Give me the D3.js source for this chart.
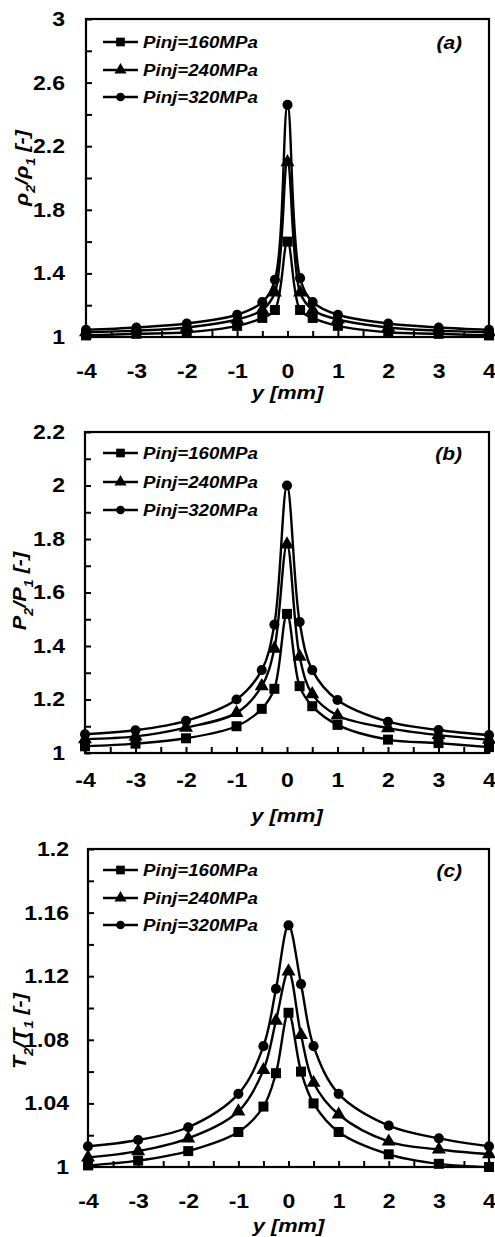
<!DOCTYPE html>
<html>
<head>
<meta charset="utf-8">
<script src="https://cdn.jsdelivr.net/npm/d3@7"></script>
<style>
  body { margin: 0; background: #fff; }
  text { font-family: "Liberation Sans", Arial, sans-serif; font-weight: bold; fill: #000; }
</style>
</head>
<body>
<div id="chart"></div>
<script>
// positions along the jet (mm)
const yPos = [-4, -3, -2, -1, -0.5, -0.25, 0, 0.25, 0.5, 1, 2, 3, 4];
const seriesNames = ["Pinj=160MPa", "Pinj=240MPa", "Pinj=320MPa"];
const xTicks = [-4, -3, -2, -1, 0, 1, 2, 3, 4];

// (a) density ratio
const rho160 = [1.01, 1.02, 1.03, 1.07, 1.12, 1.17, 1.60, 1.17, 1.12, 1.07, 1.03, 1.02, 1.01];
const rho240 = [1.03, 1.04, 1.06, 1.11, 1.17, 1.28, 2.10, 1.28, 1.17, 1.11, 1.06, 1.04, 1.03];
const rho320 = [1.045, 1.06, 1.085, 1.14, 1.22, 1.36, 2.46, 1.37, 1.22, 1.14, 1.085, 1.06, 1.045];
const rhoTicks = [1, 1.4, 1.8, 2.2, 2.6, 3];

// (b) pressure ratio
const p160 = [1.025, 1.035, 1.055, 1.10, 1.165, 1.24, 1.52, 1.25, 1.175, 1.105, 1.05, 1.037, 1.022];
const p240 = [1.052, 1.062, 1.095, 1.15, 1.25, 1.39, 1.78, 1.36, 1.22, 1.14, 1.093, 1.067, 1.05];
const p320 = [1.07, 1.085, 1.12, 1.20, 1.31, 1.48, 2.00, 1.49, 1.31, 1.198, 1.117, 1.086, 1.067];
const pTicks = [1, 1.2, 1.4, 1.6, 1.8, 2, 2.2];

// (c) temperature ratio
const t160 = [1.001, 1.004, 1.010, 1.022, 1.038, 1.059, 1.097, 1.060, 1.040, 1.022, 1.008, 1.002, 1.000];
const t240 = [1.006, 1.010, 1.018, 1.035, 1.061, 1.092, 1.123, 1.083, 1.053, 1.033, 1.016, 1.011, 1.008];
const t320 = [1.013, 1.017, 1.025, 1.046, 1.076, 1.112, 1.152, 1.115, 1.076, 1.046, 1.026, 1.018, 1.013];
const tTicks = [1, 1.04, 1.08, 1.12, 1.16, 1.2];

const svg = d3.select("#chart").append("svg")
  .attr("width", 495).attr("height", 1237);

const symbols = [d3.symbolSquare, d3.symbolTriangle, d3.symbolCircle];
const symSizes = [100, 85, 80];

function stretch(sel, sx) {
  sel.each(function() {
    const t = d3.select(this);
    const x = +t.attr("x") || 0;
    t.attr("transform", `translate(${x * (1 - sx)},0) scale(${sx},1)`);
  });
}

function drawPanel(cfg) {
  const g = svg.append("g");
  const x = d3.scaleLinear().domain([-4, 4]).range([cfg.left, 489]);
  const y = d3.scaleLinear().domain([cfg.ticks[0], cfg.ticks[cfg.ticks.length - 1]]).range([cfg.bottom, cfg.top]);

  // minor ticks halfway between labelled ones
  const step = cfg.ticks[1] - cfg.ticks[0];
  const yAll = [];
  cfg.ticks.forEach((t, i) => { yAll.push(t); if (i < cfg.ticks.length - 1) yAll.push(t + step / 2); });
  const labelled = v => cfg.ticks.some(t => Math.abs(t - v) < 1e-9);

  const yAxis = g.append("g")
    .attr("transform", `translate(${cfg.left},0)`)
    .call(d3.axisLeft(y).tickValues(yAll).tickSize(-6).tickSizeOuter(0).tickPadding(cfg.yPad)
      .tickFormat(d => labelled(d) ? d3.format("")(+d.toFixed(2)) : ""));
  yAxis.selectAll("text").style("font-size", "20px");
  stretch(yAxis.selectAll("text"), 1.15);

  const xMinor = d3.range(-4, 4.01, 0.5);
  const xAxis = g.append("g")
    .attr("transform", `translate(0,${cfg.bottom})`)
    .call(d3.axisBottom(x).tickValues(xMinor).tickSize(-6).tickSizeOuter(0).tickPadding(cfg.xPad)
      .tickFormat(d => xTicks.includes(d) ? d : ""));
  xAxis.selectAll("text").style("font-size", "20px");
  stretch(xAxis.selectAll("text"), 1.15);

  g.selectAll(".domain").remove();
  g.selectAll(".tick line").attr("stroke", "#000").attr("stroke-width", 2);

  g.append("rect")
    .attr("x", cfg.left).attr("y", cfg.top)
    .attr("width", 489 - cfg.left).attr("height", cfg.bottom - cfg.top)
    .attr("fill", "none").attr("stroke", "#000").attr("stroke-width", 2.2);

  const line = d3.line()
    .x((d, i) => x(yPos[i]))
    .y(d => y(d))
    .curve(d3.curveCatmullRom.alpha(0.5));

  cfg.series.forEach((vals, s) => {
    g.append("path")
      .datum(vals)
      .attr("fill", "none")
      .attr("stroke", "#000")
      .attr("stroke-width", 2.4)
      .attr("d", line);
    g.selectAll(null)
      .data(vals)
      .enter().append("path")
      .attr("transform", (d, i) => `translate(${x(yPos[i])},${y(d)})`)
      .attr("d", d3.symbol().type(symbols[s]).size(symSizes[s]))
      .attr("fill", "#000");
  });

  // legend
  cfg.legendY.forEach((ly, s) => {
    g.append("line").attr("x1", 103).attr("x2", 138).attr("y1", ly).attr("y2", ly)
      .attr("stroke", "#000").attr("stroke-width", 2.4);
    g.append("path")
      .attr("transform", `translate(120.5,${ly})`)
      .attr("d", d3.symbol().type(symbols[s]).size(symSizes[s] * 0.75))
      .attr("fill", "#000");
    const lt = g.append("text").attr("x", 143).attr("y", ly + 6)
      .style("font-size", "17px").style("font-style", "italic")
      .text(seriesNames[s]);
    stretch(lt, 1.1);
  });

  const pl = g.append("text").attr("x", 462).attr("y", cfg.legendY[0] + 7)
    .attr("text-anchor", "end")
    .style("font-size", "19px").style("font-style", "italic")
    .text(cfg.tag);
  stretch(pl, 1.1);

  const xt = g.append("text").attr("x", x(0)).attr("y", cfg.xTitleY)
    .attr("text-anchor", "middle")
    .style("font-size", "19px").style("font-style", "italic")
    .text("y [mm]");
  stretch(xt, 1.15);

  const yt = g.append("text")
    .attr("transform", `translate(${cfg.yTitleX},${cfg.yTitleY}) rotate(-90) scale(1.2,1)`)
    .attr("text-anchor", "middle")
    .style("font-size", "18px").style("font-style", "italic");
  yt.append("tspan").text(cfg.sym);
  yt.append("tspan").attr("baseline-shift", "sub").style("font-size", "12px").text("2");
  yt.append("tspan").text("/" + cfg.sym);
  yt.append("tspan").attr("baseline-shift", "sub").style("font-size", "12px").text("1");
  yt.append("tspan").text(" [-]");
}

drawPanel({
  left: 86, top: 19, bottom: 337, ticks: rhoTicks, yPad: 21, xPad: 27,
  series: [rho160, rho240, rho320], legendY: [42, 70, 97], tag: "(a)",
  xTitleY: 399, sym: "ρ", yTitleX: 28, yTitleY: 168
});
drawPanel({
  left: 85, top: 432, bottom: 753, ticks: pTicks, yPad: 20, xPad: 20,
  series: [p160, p240, p320], legendY: [453, 482, 510], tag: "(b)",
  xTitleY: 822, sym: "P", yTitleX: 26, yTitleY: 591
});
drawPanel({
  left: 88, top: 849, bottom: 1167, ticks: tTicks, yPad: 19, xPad: 27,
  series: [t160, t240, t320], legendY: [870, 898, 925], tag: "(c)",
  xTitleY: 1232, sym: "T", yTitleX: 26, yTitleY: 1031
});
</script>
</body>
</html>
